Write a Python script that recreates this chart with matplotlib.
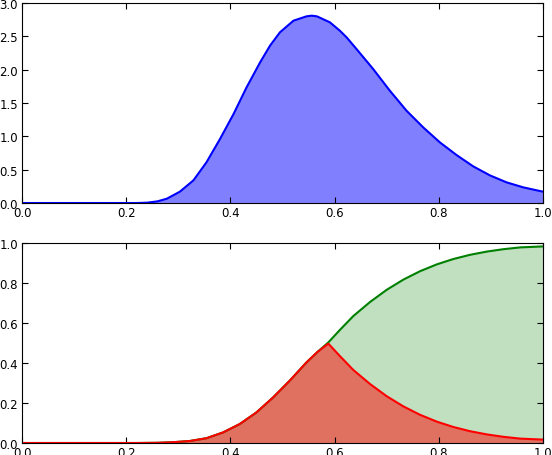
import matplotlib
matplotlib.use("Agg")
import matplotlib.pyplot as plt
import numpy as np

# values
x_pdf = [0.0, 0.22, 0.24, 0.26, 0.278, 0.303, 0.329, 0.354, 0.380, 0.406,
         0.431, 0.457, 0.476, 0.495, 0.521, 0.546, 0.556, 0.566, 0.591,
         0.610, 0.623, 0.642, 0.674, 0.706, 0.738, 0.770, 0.802, 0.834,
         0.866, 0.898, 0.930, 0.962, 1.0]
pdf = [0.0, 0.0, 0.005, 0.025, 0.065, 0.17, 0.34, 0.61, 0.96, 1.335,
       1.735, 2.11, 2.36, 2.56, 2.735, 2.80, 2.81, 2.80, 2.71,
       2.585, 2.485, 2.31, 2.01, 1.685, 1.385, 1.135, 0.91, 0.72,
       0.55, 0.415, 0.31, 0.235, 0.17]

x_cdf = [0.0, 0.22, 0.26, 0.29, 0.322, 0.354, 0.386, 0.418, 0.450, 0.482,
         0.514, 0.546, 0.567, 0.588, 0.610, 0.636, 0.668, 0.700, 0.732,
         0.764, 0.796, 0.828, 0.860, 0.892, 0.924, 0.956, 1.0]
cdf = [0.0, 0.0, 0.001, 0.004, 0.01, 0.024, 0.053, 0.095, 0.153, 0.228,
       0.312, 0.403, 0.455, 0.503, 0.565, 0.635, 0.705, 0.766, 0.817,
       0.859, 0.893, 0.920, 0.941, 0.957, 0.969, 0.978, 0.983]

cdf = np.array(cdf)
tail = np.minimum(cdf, 1 - cdf)

plt.rcParams['font.size'] = 8.5
plt.rcParams['xtick.direction'] = 'in'
plt.rcParams['ytick.direction'] = 'in'
plt.rcParams['xtick.top'] = True
plt.rcParams['ytick.right'] = True
plt.rcParams['xtick.major.size'] = 4
plt.rcParams['ytick.major.size'] = 4
plt.rcParams['xtick.major.pad'] = 2
plt.rcParams['ytick.major.pad'] = 3

fig = plt.figure(figsize=(5.52, 4.56), dpi=100)
ax1 = fig.add_axes([0.0399, 0.5526, 0.9438, 0.4386])
ax2 = fig.add_axes([0.0399, 0.0263, 0.9438, 0.4386])

ax1.fill_between(x_pdf, 0, pdf, facecolor='#8080ff', linewidth=0)
ax1.plot(x_pdf, pdf, color='blue', lw=1.5)
ax1.set_xlim(0, 1)
ax1.set_ylim(0, 3)
ax1.set_xticks(np.arange(0, 1.01, 0.2))
ax1.set_yticks(np.arange(0, 3.01, 0.5))
ax1.xaxis.set_major_formatter(plt.FormatStrFormatter('%.1f'))
ax1.yaxis.set_major_formatter(plt.FormatStrFormatter('%.1f'))

ax2.fill_between(x_cdf, tail, cdf, facecolor='#c0e0c0', linewidth=0)
ax2.fill_between(x_cdf, 0, tail, facecolor='#e07060', linewidth=0)
ax2.plot(x_cdf, cdf, color='green', lw=1.5)
ax2.plot(x_cdf, tail, color='red', lw=1.5)
ax2.set_xlim(0, 1)
ax2.set_ylim(0, 1)
ax2.set_xticks(np.arange(0, 1.01, 0.2))
ax2.set_yticks(np.arange(0, 1.01, 0.2))
ax2.xaxis.set_major_formatter(plt.FormatStrFormatter('%.1f'))
ax2.yaxis.set_major_formatter(plt.FormatStrFormatter('%.1f'))

plt.savefig("out.png", dpi=100)
